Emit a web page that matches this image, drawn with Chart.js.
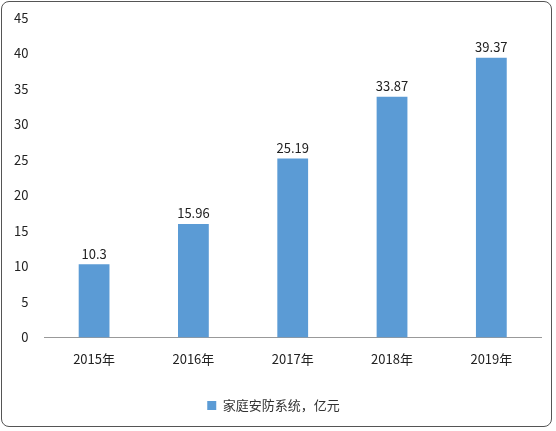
<!DOCTYPE html>
<html><head><meta charset="utf-8">
<script src="https://cdn.jsdelivr.net/npm/chart.js@4"></script>
<style>
html,body{margin:0;padding:0;background:#fff;}
#wrap{position:absolute;left:1px;top:1px;width:551px;height:426px;border:1.5px solid #555;border-radius:8px;box-sizing:border-box;}
canvas{display:block;}
</style></head><body>
<div id="wrap"><canvas id="c"></canvas></div>
<script>
const categories=['2015年','2016年','2017年','2018年','2019年'];
const values=[10.3,15.96,25.19,33.87,39.37];
const yTicks=[0,5,10,15,20,25,30,35,40,45];
const seriesName='家庭安防系统，亿元';
const font='"Noto Sans CJK SC","DejaVu Sans",sans-serif';
const labelPlugin={id:'lbl',afterDatasetsDraw(ch){const ctx=ch.ctx;const m=ch.getDatasetMeta(0);ctx.save();ctx.font='13px '+font;ctx.fillStyle='#222';ctx.textAlign='center';ctx.textBaseline='bottom';
m.data.forEach((b,i)=>ctx.fillText(String(values[i]),b.x,b.y-4));ctx.restore();}};
new Chart(document.getElementById('c'),{type:'bar',
data:{labels:categories,datasets:[{label:seriesName,data:values,backgroundColor:'#5b9bd5',barPercentage:0.62,categoryPercentage:0.5}]},
options:{responsive:true,maintainAspectRatio:false,animation:false,
layout:{padding:{left:4,right:10,top:8,bottom:4}},
plugins:{legend:{position:'bottom',labels:{boxWidth:9,boxHeight:9,color:'#333',font:{family:font,size:13},padding:18}},tooltip:{enabled:false}},
scales:{x:{grid:{display:false,drawTicks:false},border:{color:'#999'},ticks:{color:'#222',font:{family:font,size:13},padding:14}},
y:{min:0,max:45,afterBuildTicks(s){s.ticks=yTicks.map(v=>({value:v}));},grid:{display:false},border:{display:false},ticks:{color:'#222',font:{family:font,size:13},padding:8}}}},
plugins:[labelPlugin]});
</script></body></html>
